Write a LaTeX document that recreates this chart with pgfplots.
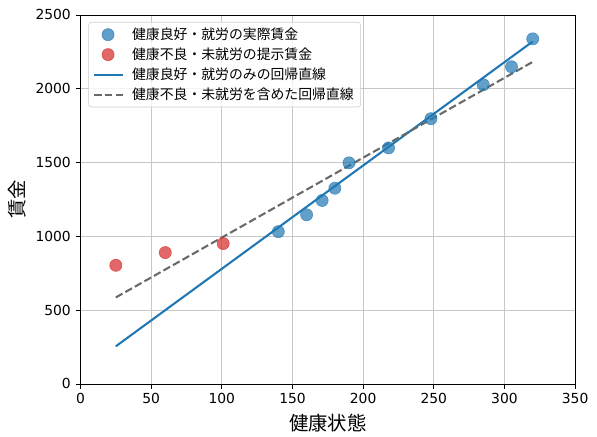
\documentclass[border=0pt]{standalone}
\usepackage{fontspec}
\setmainfont{DejaVu Sans}
\newfontfamily\jp{Noto Sans CJK JP}
\usepackage{pgfplots}
\pgfplotsset{compat=1.18}
\definecolor{tabblue}{HTML}{1F77B4}
\definecolor{tabred}{HTML}{D62728}
\definecolor{dimgray}{HTML}{696969}
\pgfplotsset{
  mylegmark/.style={legend image code/.code={\draw[##1] plot coordinates {(0.36cm,0cm)};}},
  myleglineimg/.style={legend image code/.code={\draw[##1] (0cm,0cm) -- (0.75cm,0cm);}},
}
\begin{document}
\begin{tikzpicture}
\begin{axis}[
  width=357.1pt, height=266.4pt, scale only axis,
  xmin=0, xmax=350, ymin=0, ymax=2500,
  xtick={0,50,...,350}, ytick={0,500,...,2500},
  xtick pos=bottom, ytick pos=left,
  tick align=outside, major tick length=3.5pt,
  tick style={black, line width=0.6pt},
  axis line style={line width=0.6pt},
  grid=major, grid style={black!22, line width=0.6pt},
  ticklabel style={font=\fontsize{10}{12}\selectfont},
  /pgf/number format/assume math mode=true,
  /pgf/number format/1000 sep={},
  xlabel={\jp\fontsize{14}{16}\selectfont 健康状態},
  ylabel={\jp\fontsize{14}{16}\selectfont 賃金},
  legend style={at={(0.016,0.981)}, anchor=north west, draw=black!20, rounded corners=2pt,
    fill=white, fill opacity=0.8, text opacity=1, draw opacity=1,
    font=\jp\fontsize{10}{12}\selectfont, cells={anchor=west},
    row sep=0.5pt, inner xsep=3pt, inner ysep=2pt,
    /tikz/every odd column/.append style={column sep=3.5pt}},
]
\addplot[only marks, mark=*, mark size=4.4pt, draw=tabblue, fill=tabblue, opacity=0.7, mylegmark]
  coordinates {(140,1032)(160,1146)(171,1243)(180,1326)(190,1498)(218,1599)(248,1797)(285,2027)(305,2149)(320,2338)};
\addlegendentry{健康良好・就労の実際賃金}
\addplot[only marks, mark=*, mark size=4.4pt, draw=tabred, fill=tabred, opacity=0.7, mylegmark]
  coordinates {(25,804)(60,890)(101,951)};
\addlegendentry{健康不良・未就労の提示賃金}
\addplot[tabblue, line width=1.5pt, no marks, myleglineimg]
  coordinates {(25,255)(320,2320)};
\addlegendentry{健康良好・就労のみの回帰直線}
\addplot[dimgray, line width=1.5pt, no marks, dash pattern=on 5.5pt off 2.4pt, myleglineimg]
  coordinates {(25,586)(320,2182)};
\addlegendentry{健康不良・未就労を含めた回帰直線}
\end{axis}
\path (current axis.outer south west) ++(-2.5pt,0) coordinate (padl);
\path (padl);
\path (357.1pt,266.4pt) ++(15.8pt,10.8pt) coordinate (pad);
\path (pad);
\end{tikzpicture}
\end{document}
